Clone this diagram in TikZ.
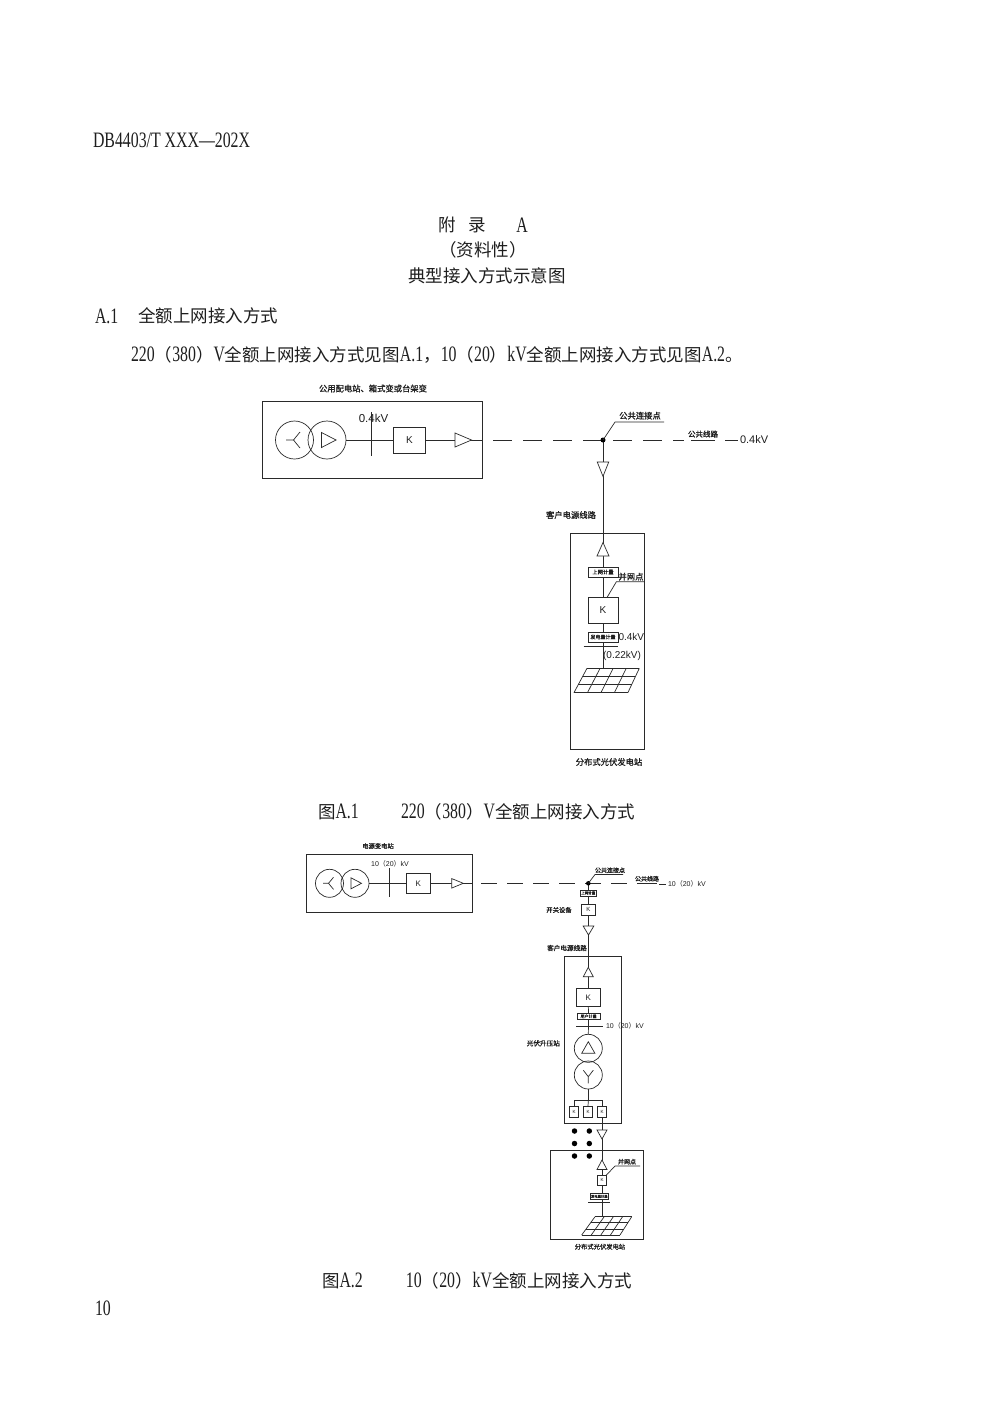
\documentclass[tikz,border=0pt]{standalone}
\usepackage{fontspec}
\setmainfont{Liberation Serif}
\newfontfamily\cjk{Noto Sans CJK SC}
\newfontfamily\cjkb[FakeBold=1.2]{Noto Sans CJK SC}
\newfontfamily\nlat[FakeStretch=0.72]{Liberation Serif}
\newfontfamily\ssf{Liberation Sans}
\usetikzlibrary{calc}
\pgfdeclarelayer{bg}
\pgfdeclarelayer{paper}
\pgfsetlayers{paper,bg,main}
\definecolor{ink}{HTML}{1E1E1E}
\definecolor{lineink}{HTML}{2A2A2A}
\newcommand\fs[1]{\fontsize{#1}{#1}\selectfont}
\newcommand\Z[1]{{\cjk\fs{17.5}#1}}
\newcommand\Zc[1]{{\cjk #1}}
\newcommand\triR[4]{\draw[wire,fill=white] (#1,#2-#4/2) -- (#1+#3,#2) -- (#1,#2+#4/2) -- cycle;}
\newcommand\triD[4]{\draw[wire,fill=white] (#1-#4/2,#2) -- (#1,#2+#3) -- (#1+#4/2,#2) -- cycle;}
\newcommand\triU[4]{\draw[wire,fill=white] (#1-#4/2,#2) -- (#1,#2-#3) -- (#1+#4/2,#2) -- cycle;}
\newcommand\pvpanel[6]{%
  \foreach \i in {0,1,2,3,4}{\draw[wire] ({#1+(#2-#1)*\i/4},#5) -- ({#3+(#4-#3)*\i/4},#6);}
  \foreach \j in {0,1,2,3}{\draw[wire] ({#1+(#3-#1)*\j/3},{#5+(#6-#5)*\j/3}) -- ({#2+(#4-#2)*\j/3},{#5+(#6-#5)*\j/3});}}
\begin{document}
\begin{tikzpicture}[x=1pt,y=-1pt,
  wire/.style={draw=lineink,line width=0.7pt},
  dashA/.style={wire,dash pattern=on 19pt off 11pt},
  dashB/.style={wire,dash pattern=on 16pt off 10pt},
  txt/.style={inner sep=0pt,outer sep=0pt,text=ink},
  lblA/.style={txt,font=\cjkb\fs{8.3}},
  lblB/.style={txt,font=\cjkb\fs{6.3}},
  stbox/.style={draw=lineink,line width=0.7pt,inner sep=0pt,outer sep=0pt},
  kbox/.style={draw=lineink,line width=0.7pt,fill=white,inner sep=0pt,outer sep=0pt,text=ink},
  tag/.style={draw=lineink,line width=0.6pt,fill=white,inner sep=0pt,outer sep=0pt,text=ink},
  tcirc/.style={circle,draw=lineink,line width=0.7pt,inner sep=0pt,outer sep=0pt},
  jdot/.style={circle,fill=black,inner sep=0pt,minimum size=5pt},
  pdot/.style={circle,fill=black,inner sep=0pt,minimum size=5.5pt}
]
\begin{pgfonlayer}{paper}
\fill[white] (0,0) rectangle (1000,1414);
\end{pgfonlayer}
\useasboundingbox (0,0) rectangle (1000,1414);

% ---------------- page text ----------------
\node[txt,font=\nlat\fs{22},anchor=west] (hdr) at (93,140) {DB4403/T XXX—202X};
\node[txt,font=\cjk\fs{17.5}] (ti1) at (447,225) {附};
\node[txt,font=\cjk\fs{17.5}] (ti2) at (477,225) {录};
\node[txt,font=\nlat\fs{22}] (ti3) at (522,225) {A};
\node[txt,font=\cjk\fs{17.5}] (ti4) at (483,250) {（资料性）};
\node[txt,font=\cjk\fs{17.5}] (ti5) at (487,276) {典型接入方式示意图};
\node[txt,font=\nlat\fs{22},anchor=west] (sec1) at (95,316) {A.1};
\node[txt,font=\cjk\fs{17.5},anchor=west] (sec2) at (138,316) {全额上网接入方式};
\node[txt,font=\nlat\fs{22},anchor=west] (para) at (131,355) {220\Z{（}380\Z{）}V\Z{全额上网接入方式见图}A.1\Z{，}10\Z{（}20\Z{）}kV\Z{全额上网接入方式见图}A.2\Z{。}};
\node[txt,font=\nlat\fs{22},anchor=west] (capA1) at (318,812) {\Z{图}A.1};
\node[txt,font=\nlat\fs{22},anchor=east] (capA2) at (635,812) {220\Z{（}380\Z{）}V\Z{全额上网接入方式}};
\node[txt,font=\nlat\fs{22},anchor=west] (capB1) at (322,1281) {\Z{图}A.2};
\node[txt,font=\nlat\fs{22},anchor=east] (capB2) at (632,1281) {10\Z{（}20\Z{）}kV\Z{全额上网接入方式}};
\node[txt,font=\nlat\fs{22},anchor=west] (pgno) at (95,1308) {10};

% ================= Figure A.1 =================
\node[lblA] (labA) at (373,388.5) {公用配电站、箱式变或台架变};
\node[stbox,minimum width=220pt,minimum height=77pt] (stA) at (372,439.5) {};
\node[tcirc,minimum size=38pt] (tA1) at (294.5,440) {};
\node[tcirc,minimum size=38pt] (tA2) at (327,440) {};
\draw[wire] ($(tA1)+(-8.5,0)$) -- ($(tA1)+(-1,0)$) coordinate (yA) -- ($(yA)+(6.5,-8)$) (yA) -- ($(yA)+(6.5,8)$);
\draw[wire] ($(tA2)+(-5.5,-7.5)$) -- ($(tA2)+(9,0)$) -- ($(tA2)+(-5.5,7.5)$) -- cycle;
\node[kbox,font=\ssf\fs{10},minimum width=32pt,minimum height=26pt] (kA) at (409.5,440) {K};
\coordinate (busA1) at (371.7,412);
\coordinate (busA2) at (371.7,456);
\node[txt,font=\ssf\fs{11.5}] (vA) at (373.5,418) {0.4kV};
\coordinate (stAe) at (kA.east -| stA.east);
\begin{pgfonlayer}{bg}
\draw[wire] (tA2.east) -- (kA.west);
\draw[wire] (busA1) -- (busA2);
\draw[wire] (kA.east) -- (stAe);
\end{pgfonlayer}
\triR{455}{440}{16.5}{14}
\coordinate (dA0) at (493,440);
\coordinate (dA1) at (684,440);
\draw[dashA] (dA0) -- (dA1);
\node[jdot] (pccA) at (603,440) {};
\coordinate (ldA1) at (615,422);
\coordinate (ldA2) at (664,422);
\draw[wire] (pccA.center) -- (ldA1) -- (ldA2);
\node[lblA,anchor=south] (pccAl) at (640,419.5) {公共连接点};
\node[lblA,font=\cjkb\fs{7.5},anchor=south] (lnAl) at (703,437.5) {公共线路};
\coordinate (ulA1) at (691,440);
\coordinate (ulA2) at (715,440);
\draw[wire] (ulA1) -- (ulA2);
\coordinate (vdA1) at (725,440);
\coordinate (vdA2) at (738,440);
\draw[wire] (vdA1) -- (vdA2);
\node[txt,font=\ssf\fs{11},anchor=west] (vA2) at (740,440) {0.4kV};

\node[lblA] (custA) at (571,515) {客户电源线路};
\node[stbox,minimum width=74pt,minimum height=216pt] (stB) at (607,641) {};
\node[tag,font=\cjkb\fs{5.3},minimum width=30pt,minimum height=10pt] (tgA1) at (603,572) {上网计量};
\node[kbox,font=\ssf\fs{10},minimum width=30pt,minimum height=26pt] (kB) at (603,610.5) {K};
\node[tag,font=\cjkb\fs{5},minimum width=30pt,minimum height=10pt] (tgA2) at (603,637) {发电量计量};
\coordinate (pvA) at (603,668.3);
\begin{pgfonlayer}{bg}
\draw[wire] (pccA.center) -- (tgA1.north);
\draw[wire] (tgA1.south) -- (kB.north);
\draw[wire] (kB.south) -- (tgA2.north);
\draw[wire] (tgA2.south) -- (pvA);
\end{pgfonlayer}
\triD{603}{462}{14.4}{11.5}
\triU{603}{556}{13.5}{12}
\coordinate (ldB0) at ($(kB.north)+(4,0)$);
\coordinate (ldB1) at (616.4,581.7);
\coordinate (ldB2) at (644,581.7);
\draw[wire] (ldB0) -- (ldB1) -- (ldB2);
\node[lblA,anchor=south] (gpA) at (631,580.5) {并网点};
\node[txt,font=\ssf\fs{10},anchor=west] (vB) at (618.5,637) {0.4kV};
\coordinate (bsB1) at (583.7,646.4);
\coordinate (bsB2) at (618,646.4);
\draw[wire] (bsB1) -- (bsB2);
\node[txt,font=\ssf\fs{10}] (vB2) at (622,655.5) {(0.22kV)};
\pvpanel{587}{639.3}{573.9}{627.8}{668.3}{692.8}
\node[lblA] (pvlA) at (609,762) {分布式光伏发电站};

% ================= Figure A.2 =================
\node[lblB] (labC) at (378,846) {电源变电站};
\node[stbox,minimum width=166.7pt,minimum height=58.3pt] (stC) at (389.35,883.15) {};
\node[tcirc,minimum size=28pt] (tC1) at (329.5,883.3) {};
\node[tcirc,minimum size=28pt] (tC2) at (355,883.3) {};
\draw[wire] ($(tC1)+(-6.5,0)$) -- ($(tC1)+(-1,0)$) coordinate (yC) -- ($(yC)+(5,-6)$) (yC) -- ($(yC)+(5,6)$);
\draw[wire] ($(tC2)+(-4,-5.5)$) -- ($(tC2)+(6.5,0)$) -- ($(tC2)+(-4,5.5)$) -- cycle;
\node[kbox,font=\ssf\fs{8},minimum width=24.7pt,minimum height=20pt] (kC) at (418.3,883.3) {K};
\coordinate (busC1) at (389.3,868);
\coordinate (busC2) at (389.3,896.7);
\node[txt,font=\ssf\fs{7}] (vC) at (390,863.5) {10\Zc{（}20\Zc{）}kV};
\coordinate (stCe) at (kC.east -| stC.east);
\begin{pgfonlayer}{bg}
\draw[wire] (tC2.east) -- (kC.west);
\draw[wire] (busC1) -- (busC2);
\draw[wire] (kC.east) -- (stCe);
\end{pgfonlayer}
\triR{451.7}{883.3}{11.6}{9.5}
\coordinate (dC0) at (481,883.3);
\coordinate (dC1) at (633,883.3);
\draw[dashB] (dC0) -- (dC1);
\node[jdot,minimum size=4.5pt] (pccB) at (588.3,883.3) {};
\coordinate (ldC1) at (595,874.5);
\coordinate (ldC2) at (623,874.5);
\draw[wire] (pccB.center) -- (ldC1) -- (ldC2);
\node[lblB,font=\cjkb\fs{6},anchor=south] (pccBl) at (610,873) {公共连接点};
\node[lblB,font=\cjkb\fs{6},anchor=south] (lnBl) at (647,881.5) {公共线路};
\coordinate (ulB1) at (637,883.3);
\coordinate (ulB2) at (657,883.3);
\draw[wire] (ulB1) -- (ulB2);
\coordinate (vdB1) at (659,884);
\coordinate (vdB2) at (666,884);
\draw[wire] (vdB1) -- (vdB2);
\node[txt,font=\ssf\fs{7},anchor=west] (vC2) at (668,884) {10\Zc{（}20\Zc{）}kV};

\node[tag,font=\cjkb\fs{3.5},minimum width=16pt,minimum height=6pt] (tgB1) at (588.3,893) {上网计量};
\node[kbox,font=\ssf\fs{6},minimum width=13.5pt,minimum height=11pt] (kD) at (588.3,909.5) {K};
\node[lblB] (swl) at (559,910) {开关设备};
\node[lblB,font=\cjkb\fs{6.6}] (custB) at (567,948) {客户电源线路};
\node[stbox,minimum width=57.7pt,minimum height=166.3pt] (stD) at (592.85,1039.85) {};
\node[kbox,font=\ssf\fs{8},minimum width=23.3pt,minimum height=18.4pt] (kE) at (588.3,997.5) {K};
\node[tag,font=\cjkb\fs{4},minimum width=22.7pt,minimum height=6pt] (tgB2) at (588.6,1016.3) {用户计量};
\coordinate (bsD1) at (576,1026);
\coordinate (bsD2) at (603.3,1026);
\node[txt,font=\ssf\fs{7},anchor=west] (vD) at (606,1026) {10\Zc{（}20\Zc{）}kV};
\node[lblB,font=\cjkb\fs{6.6}] (stepl) at (543.3,1043.3) {光伏升压站};
\node[tcirc,minimum size=28pt] (tD1) at (588.3,1048.3) {};
\node[tcirc,minimum size=28pt] (tD2) at (588.3,1075) {};
\draw[wire] ($(tD1)+(-6.6,5)$) -- ($(tD1)+(6.6,5)$) -- ($(tD1)+(0,-6.6)$) -- cycle;
\draw[wire] ($(tD2)+(0,8.3)$) -- ($(tD2)+(0,1.7)$) coordinate (yD) -- ($(yD)+(-5,-6.5)$) (yD) -- ($(yD)+(5,-6.5)$);
\coordinate (brD) at (588.3,1100);
\coordinate (brL) at (574,1100);
\coordinate (brR) at (602,1100);
\node[kbox,font=\ssf\fs{4.5},minimum width=9.3pt,minimum height=10.5pt] (kF1) at (574,1112) {K};
\node[kbox,font=\ssf\fs{4.5},minimum width=9.3pt,minimum height=10.5pt] (kF2) at (588,1112) {K};
\node[kbox,font=\ssf\fs{4.5},minimum width=9.3pt,minimum height=10.5pt] (kF3) at (602,1112) {K};

\node[stbox,minimum width=93.5pt,minimum height=88.8pt] (stE) at (596.75,1195.1) {};
\node[kbox,font=\ssf\fs{4.5},minimum width=9.4pt,minimum height=10.5pt] (kG) at (602,1180.3) {K};
\node[tag,font=\cjkb\fs{3.3},minimum width=18.7pt,minimum height=6pt] (tgE) at (599.3,1196.4) {发电量计量};
\coordinate (pvB) at (602,1216.7);
\coordinate (bsE1) at (588.3,1202.7);
\coordinate (bsE2) at (610,1202.7);
\draw[wire] (bsE1) -- (bsE2);

\begin{pgfonlayer}{bg}
\draw[wire] (pccB.center) -- (tgB1.north);
\draw[wire] (tgB1.south) -- (kD.north);
\draw[wire] (kD.south) -- (kE.north);
\draw[wire] (kE.south) -- (tgB2.north);
\draw[wire] (tgB2.south) -- (tD1.north);
\draw[wire] (bsD1) -- (bsD2);
\draw[wire] (tD2.south) -- (brD);
\draw[wire] (brL) -- (brR);
\draw[wire] (brL) -- (kF1.north);
\draw[wire] (brD) -- (kF2.north);
\draw[wire] (brR) -- (kF3.north);
\draw[wire] (kF3.south) -- (kG.north);
\draw[wire] (kG.south) -- (pvB);
\end{pgfonlayer}
\triD{588.5}{926}{9}{10.7}
\triU{588.3}{976.7}{9.4}{10}
\triD{602}{1130}{9}{10}
\triU{602}{1169.5}{9.5}{10}
\node[pdot] (dt1) at (574.5,1131) {};
\node[pdot] (dt2) at (589.3,1131) {};
\node[pdot] (dt3) at (574.5,1143.5) {};
\node[pdot] (dt4) at (589.3,1143.5) {};
\node[pdot] (dt5) at (574.5,1156) {};
\node[pdot] (dt6) at (589.3,1156) {};
\coordinate (ldE0) at ($(kG.north east)+(-0.3,0)$);
\coordinate (ldE1) at (615,1166);
\coordinate (ldE2) at (640,1166);
\draw[wire] (ldE0) -- (ldE1) -- (ldE2);
\node[lblB,font=\cjkb\fs{6},anchor=south] (gpB) at (627,1164.5) {并网点};
\pvpanel{595}{631.7}{581.7}{620}{1216.7}{1235}
\node[lblB] (pvlB) at (600,1246.7) {分布式光伏发电站};
\end{tikzpicture}
\end{document}
